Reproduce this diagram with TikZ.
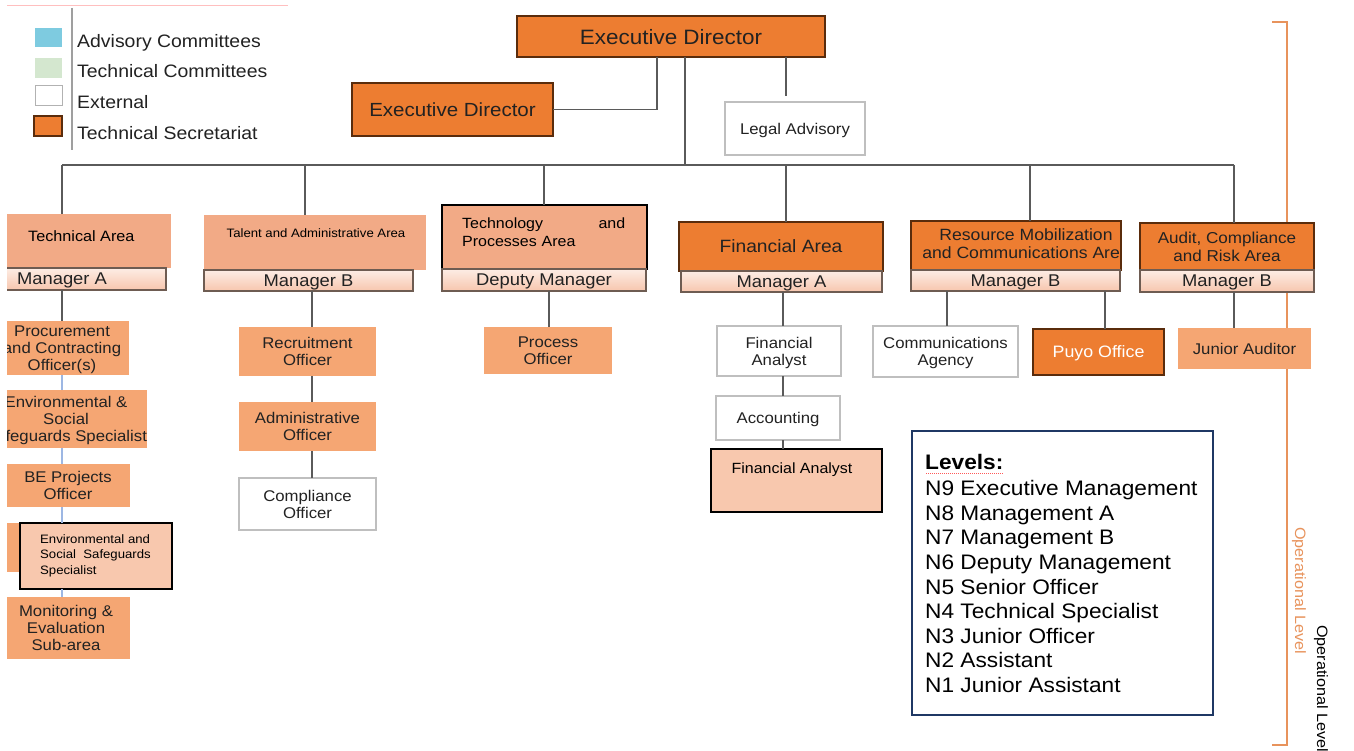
\documentclass[tikz,border=0pt]{standalone}
\usepackage{fontspec}
\setmainfont{Liberation Sans}[FakeStretch=1.08]
\usetikzlibrary{calc}
\definecolor{orgD}{HTML}{ED7D31}
\definecolor{orgB}{HTML}{5A2C0C}
\definecolor{salA}{HTML}{F2AA86}
\definecolor{offc}{HTML}{F5A673}
\definecolor{salL}{HTML}{F8C8AE}
\definecolor{mgrT}{HTML}{FDEDE5}
\definecolor{mgrB}{HTML}{F7C6AE}
\definecolor{mgrL}{HTML}{6E5C52}
\definecolor{conn}{HTML}{5A5A5A}
\definecolor{bluec}{HTML}{9DB7E3}
\definecolor{navy}{HTML}{1F3864}
\definecolor{brk}{HTML}{E8935C}
\definecolor{legC}{HTML}{7ECBE0}
\definecolor{legG}{HTML}{D4E7CF}
\definecolor{txt}{HTML}{222222}
\newcommand\fs[2]{\fontsize{#1}{#2}\selectfont}
\newcommand\bx[7]{\node[#6, minimum width={(#4-#2)*1pt}, minimum height={(#5-#3)*1pt}] (#1) at ({(#2+#4)/2},{(#3+#5)/2}) {#7};}
\tikzset{
 bxs/.style={inner sep=0pt, outer sep=0pt, align=center, text=txt, text depth=0pt},
 exec/.style={bxs, fill=orgD, draw=orgB, line width=2.2pt},
 area/.style={bxs, fill=salA},
 mgr/.style={bxs, top color=mgrT, bottom color=mgrB, draw=mgrL, line width=1.2pt, font=\fs{17}{19}},
 offbox/.style={bxs, fill=offc, font=\fs{15.5}{17}},
 ext/.style={bxs, fill=white, draw=gray!50, line width=1.2pt, font=\fs{15.5}{17}},
 hl/.style={bxs, fill=salL, draw=black, line width=1.6pt},
 link/.style={draw=conn, line width=1.3pt},
 blink/.style={draw=bluec, line width=1.3pt},
 legt/.style={anchor=base west, text=txt, font=\fs{18}{20}, inner sep=0pt},
 levl/.style={anchor=base west, text=black, font=\fs{21}{23}, inner sep=0pt},
}
\begin{document}
\begin{tikzpicture}[x=1pt,y=-1pt]
\useasboundingbox (0,0) rectangle (1354,751);
\fill[white] (0,0) rectangle (1354,751);

% bracket
\draw[brk, line width=1.3pt] (1272,22) -- (1287,22) -- (1287,745) -- (1272,745);

% legend
\draw[red!25, line width=0.8pt] (7,5) -- (288,5);
\draw[gray!75, line width=1.3pt] (72,8) -- (72,150);
\bx{lg1}{35}{28}{62}{47}{bxs, fill=legC}{}
\bx{lg2}{35}{58}{62}{78}{bxs, fill=legG}{}
\bx{lg3}{35}{86}{62}{106}{bxs, fill=white, draw=gray!60, line width=1pt}{}
\bx{lg4}{34}{116}{62}{136}{bxs, fill=orgD, draw=orgB, line width=2.4pt}{}
\node[legt] (lt1) at (77,47.5) {Advisory Committees};
\node[legt] (lt2) at (77,77.5) {Technical Committees};
\node[legt] (lt3) at (77,108.5) {External};
\node[legt] (lt4) at (77,139.5) {Technical Secretariat};

% top
\bx{ed}{517}{16}{825}{57}{exec, font=\fs{20.8}{22}}{Executive Director}
\bx{ed2}{352}{83}{553}{136}{exec, font=\fs{19}{21}}{Executive Director}
\bx{legal}{725}{102}{865}{155}{ext}{Legal Advisory}

\coordinate (v1) at (657,0);
\coordinate (bus) at (685,165);
\coordinate (legtop) at (786,96);
\draw[link] (ed.south -| v1) |- (ed2.east);
\draw[link] (ed.south -| bus) -- (bus);
\draw[link] (ed.south -| legtop) -- (legtop);

\coordinate (b1) at (62,165);
\coordinate (b2) at (305,165);
\coordinate (b3) at (544,165);
\coordinate (b4) at (786,165);
\coordinate (b5) at (1030,165);
\coordinate (b6) at (1234,165);
\draw[link] (b1) -- (b6);

% technical column (clipped at left)
\begin{scope}
\clip (7,0) rectangle (400,751);
\bx{ta}{-20}{214}{171}{268}{area}{}
\bx{ma1}{-42}{268}{166}{290}{mgr}{Manager A}
\bx{proc}{-5}{321}{129}{375}{offbox}{Procurement\\and Contracting\\Officer(s)}
\bx{env}{2}{390}{130}{448}{offbox}{Environmental \&\\Social\\Safeguards Specialist}
\bx{be}{6}{464}{130}{507}{offbox}{BE Projects\\Officer}
\bx{hid}{2}{523}{130}{572}{offbox}{}
\bx{mon}{2}{597}{130}{659}{offbox}{Monitoring \&\\Evaluation\\Sub-area}
\end{scope}
\node[anchor=west, inner sep=0pt, text=black, font=\fs{15}{17}] (tat) at (28,236) {Technical Area};
\bx{ess}{20}{523}{172}{589}{hl}{}
\node[anchor=north west, inner sep=0pt, align=left, text=black, font=\fs{12.2}{15.5}] (esst) at (40,534) {Environmental and\\Social\ \ Safeguards\\Specialist};

\draw[link] (b1) -- (ta.north -| b1);
\draw[link] (ma1.south -| b1) -- (proc.north -| b1);
\draw[blink] (proc.south -| b1) -- (env.north -| b1);
\draw[blink] (env.south -| b1) -- (be.north -| b1);
\draw[blink] (be.south -| b1) -- (ess.north -| b1);
\draw[blink] (ess.south -| b1) -- (mon.north -| b1);

% talent column
\bx{tal}{204}{215}{426}{270}{area}{}
\node[inner sep=0pt, text=black, font=\fs{12.2}{14}] (talt) at (316,233) {Talent and Administrative Area};
\bx{mb1}{204}{270}{413}{291}{mgr}{Manager B}
\bx{rec}{239}{327}{376}{376}{offbox}{Recruitment\\Officer}
\bx{adm}{239}{402}{376}{451}{offbox}{Administrative\\Officer}
\bx{comp}{239}{478}{376}{530}{ext}{Compliance\\Officer}
\coordinate (x2) at (312,0);
\draw[link] (b2) -- (tal.north -| b2);
\draw[link] (mb1.south -| x2) -- (rec.north -| x2);
\draw[link] (rec.south -| x2) -- (adm.north -| x2);
\draw[link] (adm.south -| x2) -- (comp.north -| x2);

% technology column
\bx{tp}{442}{205}{647}{269}{area, draw=black, line width=2pt}{}
\node[anchor=north west, inner sep=0pt, align=left, text=black, font=\fs{14.8}{18}, text width=163pt] (tpt) at (462,218) {Technology\hfill and\\Processes Area};
\bx{dm}{442}{269}{646}{291}{mgr}{Deputy Manager}
\bx{po}{484}{327}{612}{374}{offbox}{Process\\Officer}
\coordinate (x3) at (549,0);
\draw[link] (b3) -- (tp.north -| b3);
\draw[link] (dm.south -| x3) -- (po.north -| x3);

% financial column
\bx{fa}{679}{222}{883}{271}{exec, font=\fs{17.8}{20}}{Financial Area}
\bx{ma2}{681}{271}{882}{292}{mgr}{Manager A}
\bx{fan}{717}{326}{841}{376}{ext}{Financial\\Analyst}
\bx{acc}{716}{396}{840}{440}{ext}{Accounting}
\bx{fa2}{711}{449}{882}{512}{hl}{}
\node[inner sep=0pt, text=black, font=\fs{14.8}{17}] (fa2t) at (792,470) {Financial Analyst};
\coordinate (x4) at (783,0);
\draw[link] (b4) -- (fa.north -| b4);
\draw[link] (ma2.south -| x4) -- (fan.north -| x4);
\draw[link] (fan.south -| x4) -- (acc.north -| x4);
\draw[link] (acc.south -| x4) -- (fa2.north -| x4);

% resource column
\bx{rm}{911}{221}{1121}{270}{exec}{}
\begin{scope}
\clip (rm.north west) rectangle (rm.south east);
\node[inner sep=0pt, align=center, text=txt, font=\fs{16.3}{18}] (rmt) at (1026,244) {Resource Mobilization\\and Communications Area};
\end{scope}
\draw[orgB, line width=2.2pt] (rm.north west) rectangle (rm.south east);
\bx{mb2}{911}{270}{1120}{291}{mgr}{Manager B}
\bx{ca}{873}{326}{1018}{377}{ext}{Communications\\Agency}
\bx{puyo}{1033}{329}{1164}{375}{exec, line width=1.5pt, text=white, font=\fs{16.5}{18}}{Puyo Office}
\coordinate (x5a) at (947,0);
\coordinate (x5b) at (1105,0);
\draw[link] (b5) -- (rm.north -| b5);
\draw[link] (mb2.south -| x5a) -- (ca.north -| x5a);
\draw[link] (mb2.south -| x5b) -- (puyo.north -| x5b);

% audit column
\bx{au}{1140}{223}{1314}{270}{exec, font=\fs{15.8}{18}}{Audit, Compliance\\and Risk Area}
\bx{mb3}{1140}{270}{1314}{292}{mgr}{Manager B}
\bx{ja}{1178}{328}{1311}{369}{offbox}{Junior Auditor}
\draw[link] (b6) -- (au.north -| b6);
\draw[link] (mb3.south -| b6) -- (ja.north -| b6);

% levels box
\bx{lev}{912}{431}{1213}{715}{bxs, fill=white, draw=navy, line width=2.2pt}{}
\node[levl, font=\bfseries\fs{21}{23}] (levt) at (925,469.5) {Levels:};
\draw[red!65, line width=0.8pt, dash pattern=on 1pt off 1pt] ($(levt.base west)+(1,4)$) -- ($(levt.base east)+(-1,4)$);
\node[levl] (l9) at (925,495.5) {N9\ Executive Management};
\node[levl] (l8) at (925,520.5) {N8\ Management A};
\node[levl] (l7) at (925,544.5) {N7\ Management B};
\node[levl] (l6) at (925,569.5) {N6\ Deputy Management};
\node[levl] (l5) at (925,594.5) {N5\ Senior Officer};
\node[levl] (l4) at (925,618.5) {N4\ Technical Specialist};
\node[levl] (l3) at (925,643.5) {N3\ Junior Officer};
\node[levl] (l2) at (925,667.5) {N2\ Assistant};
\node[levl] (l1) at (925,692.5) {N1\ Junior Assistant};

% operational level labels
\node[rotate=-90, anchor=west, inner sep=0pt, text=brk, font=\fs{15}{17}] (opo) at (1299,527) {Operational Level};
\node[rotate=-90, anchor=west, inner sep=0pt, text=black, font=\fs{15}{17}] (opl) at (1321,625) {Operational Level};
\end{tikzpicture}
\end{document}
